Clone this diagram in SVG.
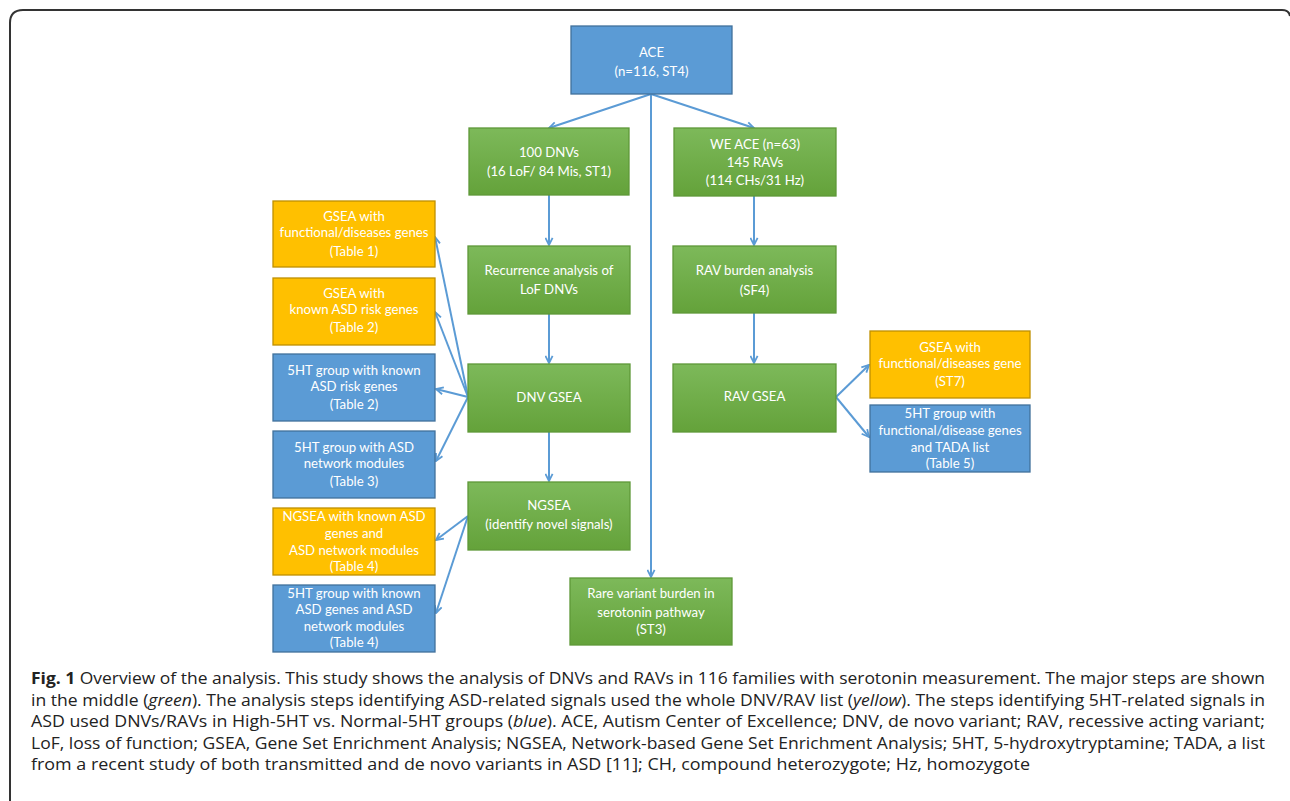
<svg xmlns="http://www.w3.org/2000/svg" width="1290" height="801" viewBox="0 0 1290 801">
<defs>
<linearGradient id="gg" x1="0" y1="0" x2="0" y2="1">
<stop offset="0" stop-color="#7DB95A"/>
<stop offset="1" stop-color="#64A23A"/>
</linearGradient>
<marker id="ah" viewBox="0 0 10 10" refX="9" refY="5" markerWidth="9" markerHeight="9" markerUnits="userSpaceOnUse" orient="auto">
<path d="M1,1 L9,5 L1,9" fill="none" stroke="#5B9BD5" stroke-width="2"/>
</marker>
</defs>
<style>
.blue{fill:#5B9BD5;stroke:#41719C;stroke-width:1.3}
.green{fill:url(#gg);stroke:#5E9838;stroke-width:1.3}
.yellow{fill:#FFC000;stroke:#BF9000;stroke-width:1.3}
.t{font-family:Lato,"Open Sans","Liberation Sans",sans-serif;font-size:13.2px;fill:#fff;text-anchor:middle}
.c{stroke:#5B9BD5;stroke-width:2;fill:none;marker-end:url(#ah)}
.cap{font-family:"Open Sans","Liberation Sans",sans-serif;font-size:16px;fill:#222}
</style>
<rect width="1290" height="801" fill="#fff"/>
<path d="M10,801 V23 Q10,10 23,10 H1282 Q1289,10 1290,16" fill="none" stroke="#333" stroke-width="2"/>

<g id="connectors">
<line class="c" x1="651" y1="94" x2="549" y2="128"/>
<line class="c" x1="651" y1="94" x2="754" y2="128"/>
<line class="c" x1="651" y1="94" x2="651" y2="577"/>
<line class="c" x1="549" y1="195" x2="549" y2="245"/>
<line class="c" x1="549" y1="314" x2="549" y2="363"/>
<line class="c" x1="549" y1="432" x2="549" y2="481"/>
<line class="c" x1="754" y1="196" x2="754" y2="245"/>
<line class="c" x1="754" y1="313" x2="754" y2="363"/>
<line class="c" x1="468" y1="397" x2="435" y2="237"/>
<line class="c" x1="468" y1="397" x2="435" y2="312"/>
<line class="c" x1="468" y1="397" x2="436" y2="389"/>
<line class="c" x1="468" y1="397" x2="436" y2="461"/>
<line class="c" x1="468" y1="516" x2="436" y2="540"/>
<line class="c" x1="468" y1="516" x2="436" y2="613"/>
<line class="c" x1="836" y1="397" x2="869" y2="365"/>
<line class="c" x1="836" y1="397" x2="869" y2="437"/>
</g>

<g id="ace"><rect class="blue" x="571" y="26" width="161" height="68"/>
<text class="t" x="651.5" y="56.5">ACE</text><text class="t" x="651.5" y="75.5">(n=116, ST4)</text></g>

<g id="dnvs"><rect class="green" x="469" y="128" width="160" height="67"/>
<text class="t" x="549" y="157.2">100 DNVs</text><text class="t" x="549" y="176.2">(16 LoF/ 84 Mis, ST1)</text></g>

<g id="weace"><rect class="green" x="674" y="128" width="162" height="68"/>
<text class="t" x="755" y="148.5">WE ACE (n=63)</text><text class="t" x="755" y="167.2">145 RAVs</text><text class="t" x="755" y="184.5">(114 CHs/31 Hz)</text></g>

<g id="gsea_func"><rect class="yellow" x="273" y="201" width="162" height="66"/>
<text class="t" x="354" y="221.2">GSEA with</text><text class="t" x="354" y="237.2">functional/diseases genes</text><text class="t" x="354" y="255.5">(Table 1)</text></g>

<g id="gsea_asd"><rect class="yellow" x="273" y="278" width="162" height="67"/>
<text class="t" x="354" y="298.2">GSEA with</text><text class="t" x="354" y="313.8">known ASD risk genes</text><text class="t" x="354" y="331.5">(Table 2)</text></g>

<g id="ht_asd"><rect class="blue" x="273" y="354" width="162" height="67"/>
<text class="t" x="354" y="375.2">5HT group with known</text><text class="t" x="354" y="391.2">ASD risk genes</text><text class="t" x="354" y="408.5">(Table 2)</text></g>

<g id="ht_net"><rect class="blue" x="273" y="431" width="162" height="67"/>
<text class="t" x="354" y="452.2">5HT group with ASD</text><text class="t" x="354" y="468.2">network modules</text><text class="t" x="354" y="485.5">(Table 3)</text></g>

<g id="recur"><rect class="green" x="468" y="246" width="162" height="68"/>
<text class="t" x="549" y="275.2">Recurrence analysis of</text><text class="t" x="549" y="293.5">LoF DNVs</text></g>

<g id="dnvgsea"><rect class="green" x="468" y="364" width="162" height="68"/>
<text class="t" x="549" y="401.8">DNV GSEA</text></g>

<g id="ngsea"><rect class="green" x="468" y="482" width="162" height="68"/>
<text class="t" x="549" y="510.2">NGSEA</text><text class="t" x="549" y="528.8">(identify novel signals)</text></g>

<g id="ngsea_known"><rect class="yellow" x="273" y="508" width="162" height="67"/>
<text class="t" x="354" y="521.2">NGSEA with known ASD</text><text class="t" x="354" y="537.8">genes and</text><text class="t" x="354" y="554.5">ASD network modules</text><text class="t" x="354" y="570.8">(Table 4)</text></g>

<g id="ht_genes_net"><rect class="blue" x="273" y="585" width="162" height="67"/>
<text class="t" x="354" y="597.8">5HT group with known</text><text class="t" x="354" y="613.8">ASD genes and ASD</text><text class="t" x="354" y="631.2">network modules</text><text class="t" x="354" y="647.2">(Table 4)</text></g>

<g id="rare"><rect class="green" x="570" y="578" width="162" height="67"/>
<text class="t" x="651" y="597.8">Rare variant burden in</text><text class="t" x="651" y="616.8">serotonin pathway</text><text class="t" x="651" y="633.5">(ST3)</text></g>

<g id="ravburden"><rect class="green" x="673" y="246" width="163" height="67"/>
<text class="t" x="754.5" y="274.8">RAV burden analysis</text><text class="t" x="754.5" y="295.2">(SF4)</text></g>

<g id="ravgsea"><rect class="green" x="673" y="364" width="163" height="68"/>
<text class="t" x="754.5" y="401.2">RAV GSEA</text></g>

<g id="gsea_st7"><rect class="yellow" x="870" y="331" width="160" height="67"/>
<text class="t" x="950" y="351.8">GSEA with</text><text class="t" x="950" y="367.8">functional/diseases gene</text><text class="t" x="950" y="386.2">(ST7)</text></g>

<g id="ht_tada"><rect class="blue" x="870" y="405" width="160" height="67"/>
<text class="t" x="950" y="418.2">5HT group with</text><text class="t" x="950" y="434.5">functional/disease genes</text><text class="t" x="950" y="451.5">and TADA list</text><text class="t" x="950" y="467.8">(Table 5)</text></g>

<g id="caption">
<text class="cap" x="31" y="684" textLength="1234" lengthAdjust="spacingAndGlyphs"><tspan font-weight="bold">Fig. 1</tspan> Overview of the analysis. This study shows the analysis of DNVs and RAVs in 116 families with serotonin measurement. The major steps are shown</text>
<text class="cap" x="31" y="705.5" textLength="1234" lengthAdjust="spacingAndGlyphs">in the middle (<tspan font-style="italic">green</tspan>). The analysis steps identifying ASD-related signals used the whole DNV/RAV list (<tspan font-style="italic">yellow</tspan>). The steps identifying 5HT-related signals in</text>
<text class="cap" x="31" y="727" textLength="1234" lengthAdjust="spacingAndGlyphs">ASD used DNVs/RAVs in High-5HT vs. Normal-5HT groups (<tspan font-style="italic">blue</tspan>). ACE, Autism Center of Excellence; DNV, de novo variant; RAV, recessive acting variant;</text>
<text class="cap" x="31" y="748.5" textLength="1234" lengthAdjust="spacingAndGlyphs">LoF, loss of function; GSEA, Gene Set Enrichment Analysis; NGSEA, Network-based Gene Set Enrichment Analysis; 5HT, 5-hydroxytryptamine; TADA, a list</text>
<text class="cap" x="31" y="770" textLength="999" lengthAdjust="spacingAndGlyphs">from a recent study of both transmitted and de novo variants in ASD [11]; CH, compound heterozygote; Hz, homozygote</text>
</g>
</svg>
